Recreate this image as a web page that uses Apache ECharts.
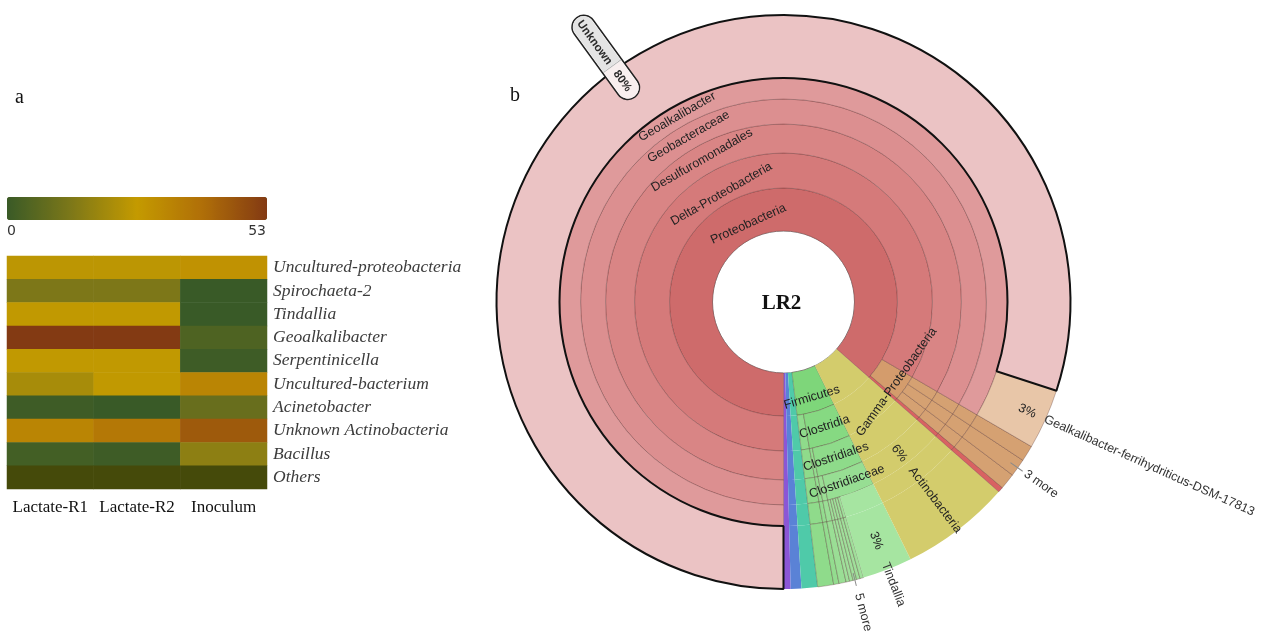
<!DOCTYPE html>
<html>
<head>
<meta charset="utf-8">
<script src="https://cdn.jsdelivr.net/npm/echarts@6/dist/echarts.min.js"></script>
<style>
  html, body { margin: 0; padding: 0; background: #fff; }
  #chart { width: 1265px; height: 631px; }
</style>
</head>
<body>
<div id="chart"></div>
<script>
// ---------- Panel a: genus abundance heatmap ----------
const samples = ['Lactate-R1', 'Lactate-R2', 'Inoculum'];
const genera = ['Uncultured-proteobacteria', 'Spirochaeta-2', 'Tindallia', 'Geoalkalibacter',
  'Serpentinicella', 'Uncultured-bacterium', 'Acinetobacter', 'Unknown Actinobacteria', 'Bacillus', 'Others'];
const lactateR1 = [25, 13, 26, 53, 26, 21, 1, 33, 2, 60];
const lactateR2 = [25, 13, 26, 53, 26, 26, 0, 37, 1, 60];
const inoculum  = [29, 0, 0, 4, 1, 33, 9, 45, 16, 60];
const scaleMin = 0;
const scaleMax = 53;
const scaleTicks = ['0', '53'];

// ---------- Panel b: taxonomy of sample LR2 (phylum .. species) ----------
const sampleName = 'LR2';
const lineages = [
  ['Proteobacteria', 'Delta-Proteobacteria', 'Desulfuromonadales', 'Geobacteraceae', 'Geoalkalibacter', 'Unknown'],
  ['Proteobacteria', 'Delta-Proteobacteria', 'Desulfuromonadales', 'Geobacteraceae', 'Geoalkalibacter', 'Gealkalibacter-ferrihydriticus-DSM-17813'],
  ['Proteobacteria', 'Gamma-Proteobacteria', 'Pseudomonadales'],
  ['Proteobacteria', 'Gamma-Proteobacteria', 'Alteromonadales'],
  ['Proteobacteria', 'Gamma-Proteobacteria', 'Oceanospirillales'],
  ['Proteobacteria', 'Alpha-Proteobacteria'],
  ['Actinobacteria'],
  ['Firmicutes', 'Clostridia', 'Clostridiales', 'Clostridiaceae', 'Tindallia'],
  ['Firmicutes', 'Clostridia', 'Clostridiales', 'Clostridiaceae', 'Clostridium'],
  ['Firmicutes', 'Clostridia', 'Clostridiales', 'Clostridiaceae', 'Alkaliphilus'],
  ['Firmicutes', 'Clostridia', 'Clostridiales', 'Clostridiaceae', 'Natronincola'],
  ['Firmicutes', 'Clostridia', 'Clostridiales', 'Clostridiaceae', 'Anaerovirgula'],
  ['Firmicutes', 'Clostridia', 'Clostridiales', 'Clostridiaceae', 'Serpentinicella'],
  ['Firmicutes', 'Clostridia', 'Clostridiales', 'Peptostreptococcaceae'],
  ['Firmicutes', 'Clostridia', 'Halanaerobiales'],
  ['Firmicutes', 'Bacilli'],
  ['Spirochaetes'],
  ['Bacteroidetes'],
  ['Chloroflexi']
];
const abundance = [80.0, 3.4, 0.9, 1.0, 0.9, 0.3, 6.2, 2.8, 0.2, 0.2, 0.2, 0.2, 0.2, 0.4, 0.3, 0.9, 0.9, 0.6, 0.4];

// ---------- styling ----------
const scaleColors = ['#395a27', '#7e7818', '#c49a00', '#b06f08', '#833a13'];
const aboveScaleColor = '#454a0a';
const nodeColors = {
  'Proteobacteria': '#ce6b6b', 'Delta-Proteobacteria': '#d57a7a', 'Desulfuromonadales': '#d98585',
  'Geobacteraceae': '#dc8f90', 'Geoalkalibacter': '#df9a9b', 'Unknown': '#ebc3c4',
  'Gealkalibacter-ferrihydriticus-DSM-17813': '#e8c6a8',
  'Gamma-Proteobacteria': '#d49c6c', 'Pseudomonadales': '#d5a172', 'Alteromonadales': '#d5a172',
  'Oceanospirillales': '#d5a172', 'Alpha-Proteobacteria': '#d86262',
  'Actinobacteria': '#d3cc6c',
  'Firmicutes': '#7ed67a', 'Clostridia': '#86d982', 'Clostridiales': '#8edb8a', 'Clostridiaceae': '#97de93',
  'Tindallia': '#a6e5a1', 'Clostridium': '#a0df9b', 'Alkaliphilus': '#a0df9b', 'Natronincola': '#a0df9b',
  'Anaerovirgula': '#a0df9b', 'Serpentinicella': '#a0df9b', 'Peptostreptococcaceae': '#9ade95',
  'Halanaerobiales': '#93dc8f', 'Bacilli': '#8fdb8b',
  'Spirochaetes': '#4fcaa9', 'Bacteroidetes': '#5a82d6', 'Chloroflexi': '#8b56d6'
};
const noRingLines = new Set(['Actinobacteria', 'Tindallia', 'Spirochaetes', 'Bacteroidetes', 'Chloroflexi']);
const hatchedTaxa = new Set(['Gamma-Proteobacteria', 'Pseudomonadales', 'Alteromonadales', 'Oceanospirillales',
  'Clostridium', 'Alkaliphilus', 'Natronincola', 'Anaerovirgula', 'Serpentinicella', 'Spirochaetes']);
const tangentialNames = new Set(['Proteobacteria', 'Delta-Proteobacteria', 'Desulfuromonadales', 'Geobacteraceae',
  'Geoalkalibacter', 'Gamma-Proteobacteria', 'Firmicutes', 'Clostridia', 'Clostridiales', 'Clostridiaceae']);
const nudgedNames = new Set(['Proteobacteria', 'Delta-Proteobacteria', 'Gamma-Proteobacteria', 'Firmicutes']);
const hatch = {
  symbol: 'rect', symbolSize: 0.6, dashArrayX: [2, 2], dashArrayY: [2, 2],
  rotation: Math.PI / 4, color: 'rgba(90,60,30,0.10)'
};
const sans = '"Liberation Sans", Arial, sans-serif';
const serif = '"Liberation Serif", "Times New Roman", serif';
const RANKS = 6;
const total = abundance.reduce((a, b) => a + b, 0);
const pct = v => Math.round(v / total * 100) + '%';

// ---------- build the taxonomy tree ----------
function buildTree() {
  const top = [];
  lineages.forEach((path, i) => {
    let siblings = top;
    let owner = null;
    for (let d = 0; d < RANKS; d++) {
      const extended = d >= path.length;          // rank not assigned: continue the leaf outwards
      const name = extended ? '' : path[d];
      if (!extended) owner = name;
      let node = siblings.find(n => n.name === name);
      if (!node) {
        node = { name, value: 0, children: [], owner, rank: d + 1, extended,
                 chained: !extended && d === path.length - 1 && path.length < RANKS };
        siblings.push(node);
      }
      node.value += abundance[i];
      siblings = node.children;
    }
  });
  return top;
}
// the wheel is laid out counter-clockwise from 6 o'clock, so siblings go in reverse order
function reverseAll(nodes) {
  nodes.reverse();
  nodes.forEach(n => reverseAll(n.children));
}
const moreCount = {
  gamma: lineages.filter(p => p[1] === 'Gamma-Proteobacteria').length,
  clostridiaceae: lineages.filter(p => p[3] === 'Clostridiaceae' && p[4] !== 'Tindallia').length
};
function moreLabel(text, lineTo, gap) {
  return {
    show: true, rotate: 'radial', position: 'outside', distance: -lineTo,
    formatter: '{ln| }{t|' + text + '}',
    rich: {
      ln: { width: lineTo + 6, height: 1, backgroundColor: '#8a8a8a' },
      t: { fontFamily: sans, fontSize: 12.5, color: '#333', padding: [0, 0, 0, gap] }
    }
  };
}
function labelFor(n) {
  const base = { show: true, fontFamily: sans, fontSize: 12.5, color: '#222' };
  if (!n.extended && tangentialNames.has(n.name)) {
    const l = Object.assign({}, base, { rotate: 'tangential' });
    if (nudgedNames.has(n.name)) {
      // an empty first line shifts the name a few pixels across its ring
      l.formatter = '{g| }\n{t|' + n.name + '}';
      l.rich = { g: { height: 14, fontSize: 1 }, t: { fontFamily: sans, fontSize: 12.5, color: '#222' } };
    }
    return l;
  }
  if (n.name === 'Unknown') {
    // pill standing across the rim: name outside, share inside
    return {
      show: true, rotate: 'radial', position: 'outside', distance: -33,
      formatter: '{u|' + n.name + '}{s| }{p|' + pct(n.value) + '}',
      borderColor: '#222', borderWidth: 1.5, borderRadius: 11, padding: 0, backgroundColor: '#fff',
      rich: {
        u: { fontFamily: sans, fontSize: 11.5, fontWeight: 'bold', color: '#2a2a2a', backgroundColor: '#e4e4e4',
             padding: [5, 3, 4, 4], borderRadius: [10, 0, 0, 10] },
        s: { width: 1, height: 22, backgroundColor: '#b0b0b0' },
        p: { fontFamily: sans, fontSize: 11.5, fontWeight: 'bold', color: '#2a2a2a', backgroundColor: '#f8efef',
             padding: [5, 8, 4, 6], borderRadius: [0, 10, 10, 0] }
      }
    };
  }
  if (n.name === 'Gealkalibacter-ferrihydriticus-DSM-17813') {
    return {
      show: true, rotate: 'radial', position: 'outside', distance: -29,
      formatter: '{p|' + pct(n.value) + '}{n|' + n.name + '}',
      rich: { p: { fontFamily: sans, fontSize: 12.5, color: '#222' },
              n: { fontFamily: sans, fontSize: 12.5, color: '#333', padding: [0, 0, 0, 10] } }
    };
  }
  if (n.extended && n.owner === 'Tindallia' && n.rank === 6) {
    return {
      show: true, rotate: 'radial', position: 'outside', distance: -40,
      formatter: '{p|' + pct(n.value) + '}{n|Tindallia}',
      rich: { p: { fontFamily: sans, fontSize: 12.5, color: '#222' },
              n: { fontFamily: sans, fontSize: 12.5, color: '#333', padding: [0, 0, 0, 15] } }
    };
  }
  if (n.extended && n.owner === 'Actinobacteria' && n.rank === 4) {
    return Object.assign({}, base, { rotate: 'radial', formatter: pct(n.value) });
  }
  if (n.extended && n.owner === 'Actinobacteria' && n.rank === 6) {
    return Object.assign({}, base, {
      rotate: 'radial', formatter: '{t|Actinobacteria}{g| }',
      rich: { t: { fontFamily: sans, fontSize: 12.5, color: '#222' }, g: { width: 12 } }
    });
  }
  if (n.extended && n.owner === 'Alteromonadales' && n.rank === 6) {
    return moreLabel(moreCount.gamma + ' more', 9, 3);
  }
  if (n.extended && n.owner === 'Natronincola' && n.rank === 6) {
    return moreLabel(moreCount.clostridiaceae + ' more', 7, 8);
  }
  return { show: false };
}
function decorate(n) {
  const plain = noRingLines.has(n.owner) && (n.extended || n.chained || n.rank === 1 || n.name === 'Tindallia');
  n.itemStyle = {
    color: nodeColors[n.owner],
    borderColor: 'rgba(70,30,30,0.32)',
    borderWidth: plain ? 0 : 0.9
  };
  if (hatchedTaxa.has(n.owner)) n.itemStyle.decal = hatch;
  if (n.name === 'Unknown') { n.itemStyle.borderColor = '#111'; n.itemStyle.borderWidth = 2; }
  n.label = labelFor(n);
  if (n.children.length) n.children.forEach(decorate); else delete n.children;
}
const taxa = buildTree();
reverseAll(taxa);
taxa.forEach(decorate);

// ---------- heatmap cells ----------
const heatCells = [];
[lactateR1, lactateR2, inoculum].forEach((col, x) => col.forEach((v, y) => heatCells.push([x, y, v])));

const chart = echarts.init(document.getElementById('chart'));
chart.setOption({
  animation: false,
  backgroundColor: '#fff',
  grid: { left: 7, top: 256, width: 260, height: 233 },
  xAxis: {
    type: 'category', data: samples, position: 'bottom',
    axisLine: { show: false }, axisTick: { show: false }, splitLine: { show: false },
    axisLabel: { interval: 0, fontFamily: serif, fontSize: 17, color: '#111', margin: 10 }
  },
  yAxis: {
    type: 'category', data: genera, inverse: true, position: 'right',
    axisLine: { show: false }, axisTick: { show: false }, splitLine: { show: false },
    axisLabel: { interval: 0, fontFamily: serif, fontStyle: 'italic', fontSize: 17.5, color: '#3c3c3c', margin: 6 }
  },
  visualMap: {
    type: 'continuous', min: scaleMin, max: scaleMax + 0.001, range: [scaleMin, scaleMax], seriesIndex: 0,
    orient: 'horizontal', left: 7, top: 197, itemWidth: 23, itemHeight: 260, padding: 0,
    calculable: false, hoverLink: false, showLabel: false,
    inRange: { color: scaleColors }, outOfRange: { color: aboveScaleColor }
  },
  graphic: [
    { type: 'text', x: 15, y: 88, style: { text: 'a', font: '20px "Liberation Serif"', fill: '#111' } },
    { type: 'text', x: 510, y: 86, style: { text: 'b', font: '20px "Liberation Serif"', fill: '#111' } },
    { type: 'text', x: 7, y: 224, style: { text: scaleTicks[0], font: '14px "DejaVu Sans"', fill: '#333' } },
    { type: 'text', x: 266, y: 224, style: { text: scaleTicks[1], font: '14px "DejaVu Sans"', fill: '#333', align: 'right' } }
  ],
  series: [
    {
      type: 'heatmap', data: heatCells, silent: true,
      itemStyle: { borderWidth: 0 }, emphasis: { disabled: true }
    },
    {
      type: 'sunburst', center: [783.5, 302], radius: [0, 287],
      startAngle: -90, clockwise: false, sort: null, nodeClick: false, silent: true,
      emphasis: { disabled: true, focus: 'none' },
      label: { show: false },
      levels: [
        {},
        { r0: 0, r: 71 },
        { r0: 71, r: 114 },
        { r0: 114, r: 149 },
        { r0: 149, r: 178 },
        { r0: 178, r: 203 },
        { r0: 203, r: 224 },
        { r0: 224, r: 287 }
      ],
      data: [{
        name: sampleName, value: total, children: taxa,
        itemStyle: { color: '#fff', borderColor: '#9a9a9a', borderWidth: 1 },
        label: {
          show: true, rotate: 0,
          formatter: '{g| }\n{t|' + sampleName + '}',
          rich: {
            g: { height: 74, fontSize: 1 },
            t: { fontFamily: serif, fontWeight: 'bold', fontSize: 21, color: '#111', padding: [0, 4, 0, 0] }
          }
        }
      }]
    }
  ]
});
</script>
</body>
</html>
